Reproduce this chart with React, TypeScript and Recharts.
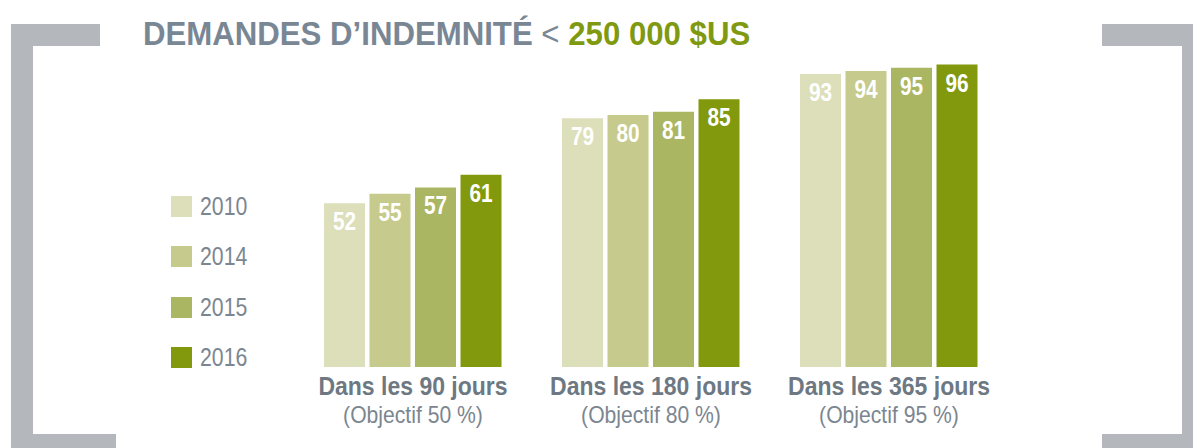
import { BarChart, Bar, XAxis, YAxis, Legend, LabelList } from 'recharts';

const categories = ['Dans les 90 jours', 'Dans les 180 jours', 'Dans les 365 jours'];
const targets = ['(Objectif 50 %)', '(Objectif 80 %)', '(Objectif 95 %)'];
const years = ['2010', '2014', '2015', '2016'];
const values2010 = [52, 79, 93];
const values2014 = [55, 80, 94];
const values2015 = [57, 81, 95];
const values2016 = [61, 85, 96];

const colors = ['#dcdfba', '#c6ca8c', '#abb663', '#82990e'];
const FONT = "'Liberation Sans', Arial, sans-serif";
const FRAME = '#b4b7bc';

const data = categories.map((name, i) => ({
  name,
  target: targets[i],
  y2010: values2010[i],
  y2014: values2014[i],
  y2015: values2015[i],
  y2016: values2016[i],
}));

function CategoryTick({ x, y, payload, index }: any) {
  return (
    <g>
      <text transform={`translate(${x} ${y + 20}) scale(0.92 1)`} textAnchor="middle"
        fontFamily={FONT} fontWeight={700} fontSize={25} fill="#6d7882">
        {payload.value}
      </text>
      <text transform={`translate(${x} ${y + 48}) scale(0.92 1)`} textAnchor="middle"
        fontFamily={FONT} fontWeight={400} fontSize={23} fill="#7c8690">
        {targets[index]}
      </text>
    </g>
  );
}

// condensed white value inside the top of each bar
function ValueLabel({ x, y, width, value }: any) {
  const cx = x + width / 2;
  return (
    <text transform={`translate(${cx} ${y + 27}) scale(0.8 1)`} textAnchor="middle"
      fontFamily={FONT} fontWeight={700} fontSize={26} fill="#ffffff">
      {value}
    </text>
  );
}

function YearLegend({ payload }: any) {
  return (
    <div>
      {(payload || []).map((p: any) => (
        <div key={p.value} style={{ display: 'flex', alignItems: 'center', height: 50.5 }}>
          <span style={{ width: 21, height: 21, background: p.color, display: 'inline-block' }} />
          <span style={{
            marginLeft: 8, fontFamily: FONT, fontSize: 25, color: '#7c8690', lineHeight: '21px',
            display: 'inline-block', transform: 'scaleX(0.85)', transformOrigin: 'left center',
          }}>
            {p.value}
          </span>
        </div>
      ))}
    </div>
  );
}

function Frame() {
  const r = (x: number, y: number, w: number, h: number) => (
    <rect x={x} y={y} width={w} height={h} fill={FRAME} />
  );
  return (
    <svg width={1193} height={448} style={{ position: 'absolute', left: 0, top: 0, pointerEvents: 'none' }}>
      {r(11, 24, 22, 424)}
      {r(11, 24, 89, 22)}
      {r(11, 434, 105, 14)}
      {r(1182, 24, 11, 424)}
      {r(1102, 24, 91, 22)}
      {r(1102, 434, 91, 14)}
      <text transform="translate(143 45) scale(0.945 1)" fontFamily={FONT} fontWeight={700} fontSize={33}>
        <tspan fill="#798795">DEMANDES D’INDEMNITÉ </tspan>
        <tspan fill="#798795" fontWeight={400}>&lt; </tspan>
        <tspan fill="#7f9a10">250 000 $US</tspan>
      </text>
    </svg>
  );
}

export default function App() {
  const keys = ['y2010', 'y2014', 'y2015', 'y2016'];
  return (
    <div style={{ position: 'absolute', left: 0, top: 0, width: 1193, height: 448, background: '#fff' }}>
      <Frame />
      <div style={{ position: 'absolute', left: 0, top: 0 }}>
        <BarChart width={1193} height={448} data={data}
          margin={{ top: 52, right: 185, left: 294, bottom: 0 }}
          barSize={41} barGap={4.5}>
          <XAxis dataKey="name" axisLine={false} tickLine={false} height={81}
            interval={0} tick={<CategoryTick />} />
          <YAxis hide domain={[0, 100]} />
          <Legend layout="vertical" align="center" verticalAlign="middle"
            content={<YearLegend />}
            wrapperStyle={{ left: 171, top: 181, width: 120 }} />
          {keys.map((k, i) => (
            <Bar key={k} dataKey={k} name={years[i]} fill={colors[i]} isAnimationActive={false}>
              <LabelList dataKey={k} content={<ValueLabel />} />
            </Bar>
          ))}
        </BarChart>
      </div>
    </div>
  );
}
